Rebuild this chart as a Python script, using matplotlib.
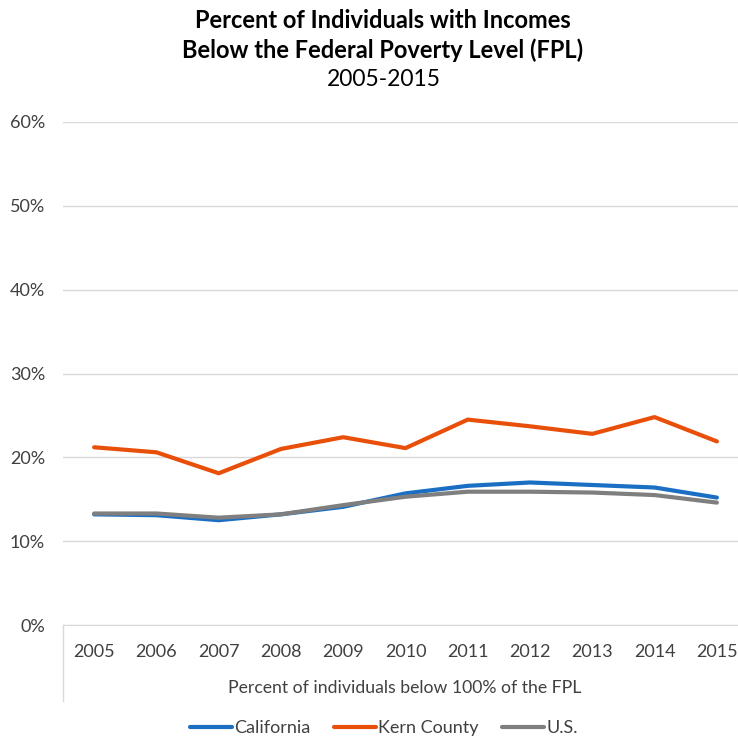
import numpy as np
import matplotlib.pyplot as plt

plt.rcParams['font.family'] = ['Lato', 'DejaVu Sans']

years = ['2005', '2006', '2007', '2008', '2009', '2010', '2011', '2012', '2013', '2014', '2015']
california = [13.2, 13.1, 12.5, 13.2, 14.1, 15.7, 16.6, 17.0, 16.7, 16.4, 15.2]
kern = [21.2, 20.6, 18.1, 21.0, 22.4, 21.1, 24.5, 23.7, 22.8, 24.8, 21.9]
us = [13.3, 13.3, 12.8, 13.2, 14.3, 15.3, 15.9, 15.9, 15.8, 15.5, 14.6]

W, H = 738, 741
fig = plt.figure(figsize=(W / 100, H / 100), dpi=100)
# plot area runs a little past the right edge, as in the original
ax = fig.add_axes([63 / W, (H - 625) / H, 685 / W, 503 / H])

x = np.arange(len(years))
ax.plot(x, np.array(california) / 100, color='#1A6FC4', lw=3, label='California', solid_capstyle='round')
ax.plot(x, np.array(kern) / 100, color='#E8500A', lw=3, label='Kern County', solid_capstyle='round')
ax.plot(x, np.array(us) / 100, color='#7F7F7F', lw=3, label='U.S.', solid_capstyle='round')

ax.set_xlim(-0.5, len(years) - 0.5)
ax.set_ylim(0, 0.6)
ax.set_yticks(np.arange(0, 0.61, 0.1))
ax.set_yticklabels([f'{int(round(v * 100))}%' for v in np.arange(0, 0.61, 0.1)])
ax.yaxis.grid(True, color='#D9D9D9', lw=1)
ax.set_axisbelow(True)
ax.set_xticks(x)
ax.set_xticklabels(years)
for s in ['top', 'right', 'left']:
    ax.spines[s].set_visible(False)
ax.spines['bottom'].set_color('#D9D9D9')
ax.tick_params(axis='both', length=0, labelsize=13, colors='#404040')
ax.tick_params(axis='x', pad=14)
ax.tick_params(axis='y', pad=13)

# divider line of the second category level
fig.add_artist(plt.Line2D([63 / W, 63 / W], [(H - 625) / H, (H - 701) / H], color='#D9D9D9', lw=1))
fig.text(405 / W, 1 - 688 / H, 'Percent of individuals below 100% of the FPL', ha='center', va='center',
         fontsize=12.7, color='#404040')

fig.text(383 / W, 1 - 20 / H, 'Percent of Individuals with Incomes', ha='center', va='center',
         fontsize=17, fontweight='bold', color='#000000')
fig.text(383 / W, 1 - 50 / H, 'Below the Federal Poverty Level (FPL)', ha='center', va='center',
         fontsize=17, fontweight='bold', color='#000000')
fig.text(384 / W, 1 - 80 / H, '2005-2015', ha='center', va='center', fontsize=16.5, color='#000000')

leg = fig.legend(loc='center', bbox_to_anchor=(384 / W, 1 - 728 / H), ncol=3, frameon=False,
                 fontsize=13, handlelength=2.3, handletextpad=0.15, columnspacing=1.3,
                 borderpad=0, borderaxespad=0)
for t in leg.get_texts():
    t.set_color('#404040')

fig.savefig('out.png', dpi=100)
